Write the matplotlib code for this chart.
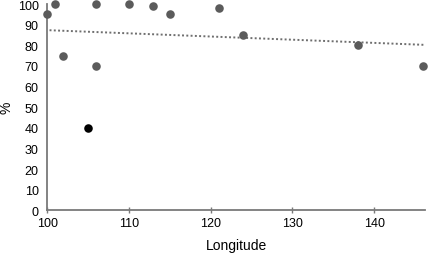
import numpy as np
import matplotlib.pyplot as plt

plt.rcParams['font.family'] = ['Liberation Sans', 'DejaVu Sans']

# gray points
lon = [100, 101, 102, 106, 106, 110, 113, 115, 121, 124, 138, 146]
pct = [95, 100, 75, 100, 70, 100, 99, 95, 98, 85, 80, 70]
# highlighted point
lon_hi = [105]
pct_hi = [40]

xticks = [100, 110, 120, 130, 140]
yticks = list(range(0, 101, 10))

fig = plt.figure(figsize=(4.28, 2.55), dpi=100)
ax = fig.add_axes([0.11, 0.171, 0.883, 0.809])

ax.scatter(lon, pct, s=38, color='#5b5b5b', zorder=3, clip_on=False, linewidths=0)
ax.scatter(lon_hi, pct_hi, s=38, color='#000000', zorder=3, clip_on=False, linewidths=0)

# linear trend over all points
all_x = np.array(lon + lon_hi, dtype=float)
all_y = np.array(pct + pct_hi, dtype=float)
k, b = np.polyfit(all_x, all_y, 1)
tx = np.array([100.3, 146])
ax.plot(tx, k * tx + b, linestyle=(0, (1, 1.2)), color='#6e6e6e', linewidth=1.4, zorder=2)

ax.set_xlim(100, 146.2)
ax.set_ylim(0, 100)
ax.set_xticks(xticks)
ax.set_yticks(yticks)

for s in ['top', 'right']:
    ax.spines[s].set_visible(False)
for s in ['left', 'bottom']:
    ax.spines[s].set_color('#7a7a7a')
    ax.spines[s].set_linewidth(1.3)

ax.tick_params(axis='x', direction='inout', length=4, width=1, color='#7a7a7a',
               labelsize=9, pad=3)
ax.tick_params(axis='y', length=0, labelsize=9, pad=6)

ax.set_xlabel('Longitude', fontsize=10, labelpad=6)
ax.set_ylabel('%', fontsize=10, labelpad=3)

fig.savefig('out.png', dpi=100)
